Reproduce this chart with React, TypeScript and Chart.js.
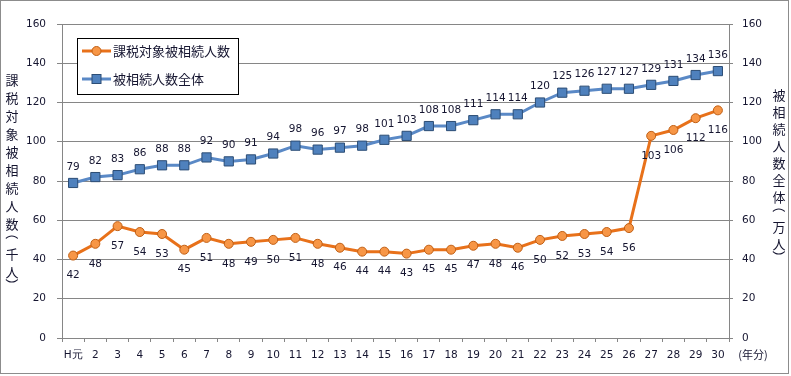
import React, { useEffect, useRef } from "react";
import { Chart, registerables } from "chart.js";

Chart.register(...registerables);

const categories = ["H元", "2", "3", "4", "5", "6", "7", "8", "9", "10", "11", "12", "13", "14", "15", "16", "17", "18", "19", "20", "21", "22", "23", "24", "25", "26", "27", "28", "29", "30"];
const taxableHeirs = [42, 48, 57, 54, 53, 45, 51, 48, 49, 50, 51, 48, 46, 44, 44, 43, 45, 45, 47, 48, 46, 50, 52, 53, 54, 56, 103, 106, 112, 116];
const allHeirs = [79, 82, 83, 86, 88, 88, 92, 90, 91, 94, 98, 96, 97, 98, 101, 103, 108, 108, 111, 114, 114, 120, 125, 126, 127, 127, 129, 131, 134, 136];
const seriesNames = ["課税対象被相続人数", "被相続人数全体"];
const leftTitle = "課税対象被相続人数（千人）";
const rightTitle = "被相続人数全体（万人）";
const unitLabel = "(年分)";

const ORANGE_LINE = "#E8711A";
const ORANGE_FILL = "#F79646";
const ORANGE_BORDER = "#C05F14";
const BLUE_LINE = "#5A89C6";
const BLUE_FILL = "#4F81BD";
const BLUE_BORDER = "#2C4D75";
const GRID = "#868686";
const TEXT = "#151530";
const NUM_FONT = "10.5px 'DejaVu Sans'";
const CJK = "'Noto Sans CJK JP'";

function drawVertical(ctx: CanvasRenderingContext2D, text: string, x: number, y0: number, step: number) {
  ctx.save();
  ctx.font = `13px ${CJK}`;
  ctx.fillStyle = TEXT;
  ctx.textAlign = "center";
  ctx.textBaseline = "middle";
  let y = y0;
  const chars = Array.from(text);
  chars.forEach((ch) => {
    if (ch === "（" || ch === "）") {
      const prev = y - step;
      const py = ch === "（" ? prev + 9 : prev + 13;
      ctx.save();
      ctx.translate(x, py);
      ctx.rotate(Math.PI / 2);
      ctx.fillText(ch, 0, 0);
      ctx.restore();
      if (ch === "（") y = prev + 30;
    } else {
      ctx.fillText(ch, x, y);
      y += step;
    }
  });
  ctx.restore();
}

const decorPlugin = {
  id: "decor",
  afterDatasetsDraw(chart: any) {
    const ctx: CanvasRenderingContext2D = chart.ctx;
    ctx.save();
    ctx.font = NUM_FONT;
    ctx.fillStyle = TEXT;
    ctx.textAlign = "center";
    ctx.textBaseline = "middle";
    chart.data.datasets.forEach((ds: any, di: number) => {
      const meta = chart.getDatasetMeta(di);
      meta.data.forEach((pt: any, i: number) => {
        const off = di === 0 ? 20 : -16;
        ctx.fillText(String(ds.data[i]), pt.x, pt.y + off);
      });
    });
    ctx.restore();
  },
  afterDraw(chart: any) {
    const ctx: CanvasRenderingContext2D = chart.ctx;
    ctx.save();
    ctx.strokeStyle = "#8C8C8C";
    ctx.lineWidth = 1;
    ctx.strokeRect(0.5, 0.5, 788, 373);
    ctx.restore();

    // legend
    ctx.save();
    ctx.fillStyle = "#FFFFFF";
    ctx.fillRect(77.5, 38.5, 161, 56);
    ctx.strokeStyle = "#000";
    ctx.lineWidth = 1;
    ctx.strokeRect(77.5, 38.5, 161, 56);
    const rows = [51, 79];
    rows.forEach((ry, i) => {
      ctx.strokeStyle = i === 0 ? ORANGE_LINE : BLUE_LINE;
      ctx.lineWidth = 3;
      ctx.beginPath();
      ctx.moveTo(82, ry);
      ctx.lineTo(111, ry);
      ctx.stroke();
      ctx.lineWidth = 1;
      if (i === 0) {
        ctx.fillStyle = ORANGE_FILL;
        ctx.strokeStyle = ORANGE_BORDER;
        ctx.beginPath();
        ctx.arc(96.5, ry, 4.5, 0, Math.PI * 2);
        ctx.fill();
        ctx.stroke();
      } else {
        ctx.fillStyle = BLUE_FILL;
        ctx.strokeStyle = BLUE_BORDER;
        ctx.fillRect(92, ry - 4.5, 9, 9);
        ctx.strokeRect(92, ry - 4.5, 9, 9);
      }
      ctx.fillStyle = TEXT;
      ctx.font = `13px ${CJK}`;
      ctx.textAlign = "left";
      ctx.textBaseline = "middle";
      ctx.fillText(seriesNames[i], 113, ry);
    });
    ctx.restore();

    drawVertical(ctx, leftTitle, 12, 80, 18);
    drawVertical(ctx, rightTitle, 779, 95, 17);

    ctx.save();
    ctx.font = `11px ${CJK}`;
    ctx.fillStyle = TEXT;
    ctx.textAlign = "center";
    ctx.textBaseline = "middle";
    ctx.fillText(unitLabel, 753, 355);
    ctx.restore();
  },
};

export default function App() {
  const ref = useRef<HTMLCanvasElement | null>(null);
  useEffect(() => {
    document.body.style.margin = "0";
    const canvas = ref.current!;
    const chart = new Chart(canvas, {
      type: "line",
      data: {
        labels: categories,
        datasets: [
          {
            label: seriesNames[0],
            data: taxableHeirs,
            yAxisID: "y",
            borderColor: ORANGE_LINE,
            borderWidth: 3,
            backgroundColor: ORANGE_FILL,
            pointBackgroundColor: ORANGE_FILL,
            pointBorderColor: ORANGE_BORDER,
            pointBorderWidth: 1,
            pointRadius: 4.5,
            pointStyle: "circle",
            tension: 0,
          },
          {
            label: seriesNames[1],
            data: allHeirs,
            yAxisID: "y2",
            borderColor: BLUE_LINE,
            borderWidth: 3,
            backgroundColor: BLUE_FILL,
            pointBackgroundColor: BLUE_FILL,
            pointBorderColor: BLUE_BORDER,
            pointBorderWidth: 1,
            pointRadius: 6.5,
            pointStyle: "rect",
            tension: 0,
          },
        ],
      },
      options: {
        responsive: false,
        animation: false,
        devicePixelRatio: 1,
        layout: { padding: { top: 24, left: 0, right: 0, bottom: 0 } },
        plugins: { legend: { display: false }, tooltip: { enabled: false } },
        scales: {
          x: {
            offset: true,
            grid: { offset: true, drawOnChartArea: false, drawTicks: true, tickLength: 4, color: GRID },
            border: { display: true, color: GRID },
            ticks: { autoSkip: false, maxRotation: 0, padding: 7, color: TEXT, font: { family: "DejaVu Sans", size: 10.5 } },
            afterFit: (s: any) => { s.height = 38; },
          },
          y: {
            position: "left",
            min: 0,
            max: 160,
            ticks: { stepSize: 20, padding: 11, color: TEXT, font: { family: "DejaVu Sans", size: 10.5 } },
            grid: { color: GRID, tickLength: 5, drawTicks: true },
            border: { display: true, color: GRID },
            afterFit: (s: any) => { s.width = 62; },
          },
          y2: {
            position: "right",
            min: 0,
            max: 160,
            ticks: { stepSize: 20, padding: 9, color: TEXT, font: { family: "DejaVu Sans", size: 10.5 } },
            grid: { drawOnChartArea: false, color: GRID, tickLength: 4, drawTicks: true },
            border: { display: true, color: GRID },
            afterFit: (s: any) => { s.width = 62; },
          },
        },
      },
      plugins: [decorPlugin],
    });
    return () => chart.destroy();
  }, []);
  return <canvas ref={ref} width={791} height={376} style={{ display: "block" }} />;
}
